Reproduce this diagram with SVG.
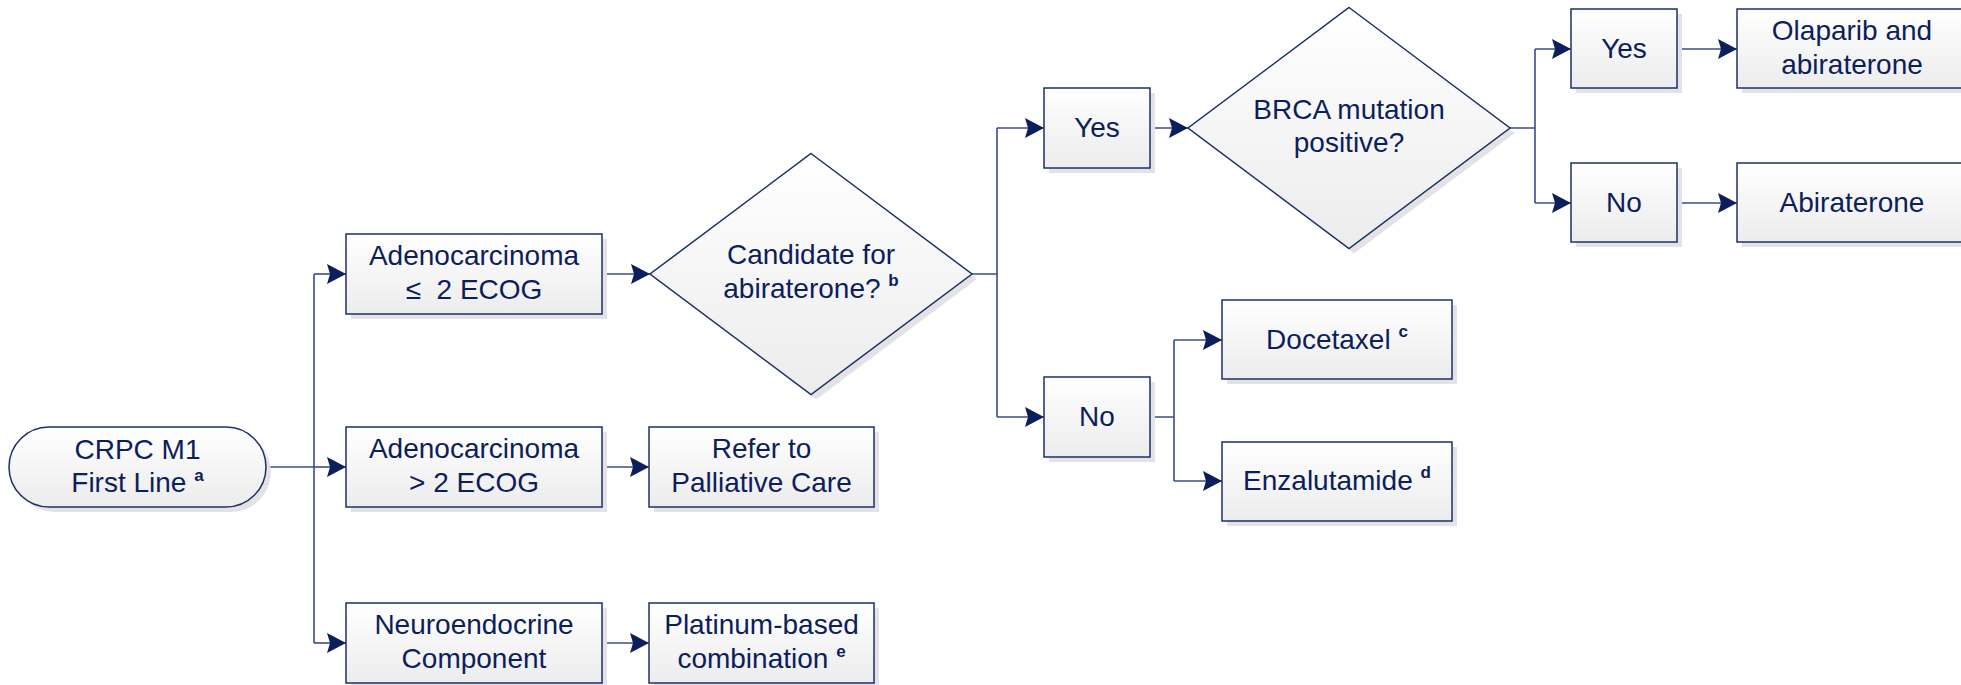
<svg xmlns="http://www.w3.org/2000/svg" width="1961" height="685" viewBox="0 0 1961 685">
<defs>
<linearGradient id="g" x1="0" y1="0" x2="0" y2="1">
<stop offset="0" stop-color="#ffffff"/>
<stop offset="1" stop-color="#ececec"/>
</linearGradient>
<marker id="arr" markerUnits="userSpaceOnUse" markerWidth="19" markerHeight="20" refX="19" refY="10" orient="auto">
<path d="M0,0 L19,10 L0,20 L3,10 Z" fill="#0c1e5b"/>
</marker>
<style>
.sh{fill:#e3e3e3;stroke:none}
.bx{fill:url(#g);stroke:#1c2f6b;stroke-width:1.5}
.t{font-family:"Liberation Sans",Arial,sans-serif;font-size:28px;fill:#0c1e5b;text-anchor:middle;white-space:pre}
.sup{font-size:17px;font-weight:bold}
.c{fill:none;stroke:#3a4e88;stroke-width:1.6}
.a{marker-end:url(#arr)}
</style>
</defs>
<rect width="1961" height="685" fill="#ffffff"/>

<g id="connectors">
<path class="c" d="M266,467 H314"/>
<path class="c" d="M314,274 V643"/>
<path class="c a" d="M314,274 H346"/>
<path class="c a" d="M314,467 H346"/>
<path class="c a" d="M314,643 H346"/>
<path class="c a" d="M602,274 H650"/>
<path class="c a" d="M602,467 H649"/>
<path class="c a" d="M602,643 H649"/>
<path class="c" d="M972,274 H997 M997,128 V417"/>
<path class="c a" d="M997,128 H1044"/>
<path class="c a" d="M997,417 H1044"/>
<path class="c a" d="M1150,128 H1188"/>
<path class="c" d="M1510,128 H1535 M1535,49 V203"/>
<path class="c a" d="M1535,49 H1571"/>
<path class="c a" d="M1535,203 H1571"/>
<path class="c a" d="M1677,49 H1737"/>
<path class="c a" d="M1677,203 H1737"/>
<path class="c" d="M1150,417 H1174 M1174,340 V481"/>
<path class="c a" d="M1174,340 H1222"/>
<path class="c a" d="M1174,481 H1222"/>
</g>

<g id="start">
<rect class="sh" x="14" y="432" width="257" height="80" rx="40"/>
<rect class="bx" x="9" y="427" width="257" height="80" rx="40"/>
<text class="t" x="137.5" y="459">CRPC M1</text>
<text class="t" x="137.5" y="492">First Line <tspan class="sup" dy="-11">a</tspan></text>
</g>

<g id="adeno-le2">
<rect class="sh" x="351" y="239" width="256" height="80"/>
<rect class="bx" x="346" y="234" width="256" height="80"/>
<text class="t" x="474" y="265">Adenocarcinoma</text>
<text class="t" x="474" y="299">≤  2 ECOG</text>
</g>

<g id="adeno-gt2">
<rect class="sh" x="351" y="432" width="256" height="80"/>
<rect class="bx" x="346" y="427" width="256" height="80"/>
<text class="t" x="474" y="458">Adenocarcinoma</text>
<text class="t" x="474" y="492">&gt; 2 ECOG</text>
</g>

<g id="neuro">
<rect class="sh" x="351" y="608" width="256" height="80"/>
<rect class="bx" x="346" y="603" width="256" height="80"/>
<text class="t" x="474" y="634">Neuroendocrine</text>
<text class="t" x="474" y="668">Component</text>
</g>

<g id="palliative">
<rect class="sh" x="654" y="432" width="225" height="80"/>
<rect class="bx" x="649" y="427" width="225" height="80"/>
<text class="t" x="761.5" y="458">Refer to</text>
<text class="t" x="761.5" y="492">Palliative Care</text>
</g>

<g id="platinum">
<rect class="sh" x="654" y="608" width="225" height="80"/>
<rect class="bx" x="649" y="603" width="225" height="80"/>
<text class="t" x="761.5" y="634">Platinum-based</text>
<text class="t" x="761.5" y="668">combination <tspan class="sup" dy="-11">e</tspan></text>
</g>

<g id="candidate">
<polygon class="sh" points="816,158.5 977,279 816,399.5 655,279"/>
<polygon class="bx" points="811,153.5 972,274 811,394.5 650,274"/>
<text class="t" x="811" y="264">Candidate for</text>
<text class="t" x="811" y="298">abiraterone? <tspan class="sup" dy="-12">b</tspan></text>
</g>

<g id="yes1">
<rect class="sh" x="1049" y="93" width="106" height="80"/>
<rect class="bx" x="1044" y="88" width="106" height="80"/>
<text class="t" x="1097" y="137">Yes</text>
</g>

<g id="no1">
<rect class="sh" x="1049" y="382" width="106" height="80"/>
<rect class="bx" x="1044" y="377" width="106" height="80"/>
<text class="t" x="1097" y="426">No</text>
</g>

<g id="brca">
<polygon class="sh" points="1354,12.5 1515,133 1354,253.5 1193,133"/>
<polygon class="bx" points="1349,7.5 1510,128 1349,248.5 1188,128"/>
<text class="t" x="1349" y="118.5">BRCA mutation</text>
<text class="t" x="1349" y="152">positive?</text>
</g>

<g id="yes2">
<rect class="sh" x="1576" y="14" width="106" height="79"/>
<rect class="bx" x="1571" y="9" width="106" height="79"/>
<text class="t" x="1624" y="58">Yes</text>
</g>

<g id="no2">
<rect class="sh" x="1576" y="168" width="106" height="79"/>
<rect class="bx" x="1571" y="163" width="106" height="79"/>
<text class="t" x="1624" y="212">No</text>
</g>

<g id="olaparib">
<rect class="sh" x="1742" y="14" width="230" height="79"/>
<rect class="bx" x="1737" y="9" width="230" height="79"/>
<text class="t" x="1852" y="40">Olaparib and</text>
<text class="t" x="1852" y="74">abiraterone</text>
</g>

<g id="abiraterone">
<rect class="sh" x="1742" y="168" width="230" height="79"/>
<rect class="bx" x="1737" y="163" width="230" height="79"/>
<text class="t" x="1852" y="212">Abiraterone</text>
</g>

<g id="docetaxel">
<rect class="sh" x="1227" y="305" width="230" height="79"/>
<rect class="bx" x="1222" y="300" width="230" height="79"/>
<text class="t" x="1337" y="349">Docetaxel <tspan class="sup" dy="-12">c</tspan></text>
</g>

<g id="enzalutamide">
<rect class="sh" x="1227" y="447" width="230" height="79"/>
<rect class="bx" x="1222" y="442" width="230" height="79"/>
<text class="t" x="1337" y="490">Enzalutamide <tspan class="sup" dy="-12">d</tspan></text>
</g>
</svg>
